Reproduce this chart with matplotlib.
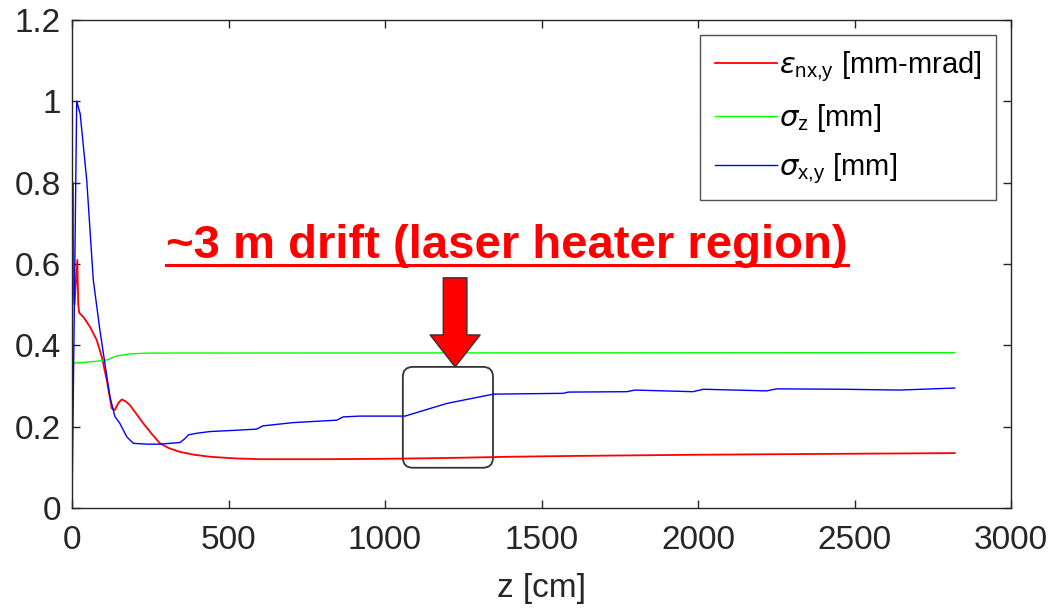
import matplotlib
matplotlib.use('Agg')
import matplotlib.pyplot as plt
from matplotlib.patches import FancyBboxPatch
from matplotlib.lines import Line2D

plt.rcParams['font.family'] = ['Liberation Sans', 'DejaVu Sans']
plt.rcParams['mathtext.fontset'] = 'dejavusans'

# emittance (red)
z_eps = [0, 2, 5, 8, 12, 17, 20, 23, 36, 57, 79, 95, 111, 127, 137, 148, 159, 172,
         185, 205, 228, 255, 281, 310, 345, 390, 441, 520, 600, 800, 1000, 1200,
         1400, 1600, 2000, 2400, 2820]
eps = [0.38, 0.80, 0.55, 0.50, 0.55, 0.61, 0.50, 0.48, 0.47, 0.446, 0.413, 0.372,
       0.315, 0.245, 0.241, 0.258, 0.267, 0.262, 0.253, 0.232, 0.208, 0.182, 0.159,
       0.147, 0.138, 0.131, 0.126, 0.122, 0.120, 0.120, 0.121, 0.123, 0.126, 0.128,
       0.131, 0.133, 0.135]

# bunch length (green)
z_sz = [0, 68, 111, 143, 185, 250, 2820]
sig_z = [0.356, 0.360, 0.364, 0.374, 0.379, 0.381, 0.382]

# transverse size (blue)
z_sxy = [0, 15, 26, 47, 68, 89, 105, 121, 137, 153, 175, 196, 240, 281, 345, 360,
         372, 400, 441, 520, 590, 610, 707, 846, 866, 920, 984, 1064, 1197, 1346,
         1570, 1585, 1772, 1799, 1984, 2017, 2219, 2251, 2460, 2645, 2820]
sig_xy = [0, 1.0, 0.97, 0.807, 0.561, 0.438, 0.356, 0.274, 0.225, 0.208, 0.175,
          0.159, 0.157, 0.157, 0.161, 0.170, 0.180, 0.184, 0.188, 0.191, 0.194,
          0.202, 0.210, 0.216, 0.224, 0.226, 0.226, 0.226, 0.257, 0.280, 0.282,
          0.285, 0.286, 0.290, 0.286, 0.292, 0.288, 0.293, 0.292, 0.290, 0.295]

x_ticks = [0, 500, 1000, 1500, 2000, 2500, 3000]
y_ticks = [0, 0.2, 0.4, 0.6, 0.8, 1.0, 1.2]
y_ticklabels = ['0', '0.2', '0.4', '0.6', '0.8', '1', '1.2']

# highlighted region and arrow
box_z = (1057, 1345)
box_y = (0.099, 0.347)
arrow_z = 1224
arrow_y = (0.566, 0.347)
note = '~3 m drift (laser heater region)'

fig = plt.figure(figsize=(10.51, 6.10), dpi=100)
ax = fig.add_axes([72 / 1051, 102 / 610, 939 / 1051, 488 / 610])

ax.plot(z_eps, eps, color='#ff0000', lw=1.3, label=r'$\epsilon_{\mathregular{nx{,}y}}$ [mm-mrad]')
ax.plot(z_sz, sig_z, color='#00ff00', lw=1.0, label=r'$\sigma_{\mathregular{z}}$ [mm]')
ax.plot(z_sxy, sig_xy, color='#0000ff', lw=1.0, label=r'$\sigma_{\mathregular{x{,}y}}$ [mm]')

ax.set_xlim(0, 3000)
ax.set_ylim(0, 1.2)
ax.set_xticks(x_ticks)
ax.set_xticklabels([str(v) for v in x_ticks])
ax.set_yticks(y_ticks)
ax.set_yticklabels(y_ticklabels)
ax.tick_params(direction='in', length=6, width=1, top=True, right=True,
               labelsize=24, colors='#262626')
ax.tick_params(axis='x', pad=12.5)
ax.tick_params(axis='y', pad=8)
for s in ax.spines.values():
    s.set_color('#262626')
    s.set_linewidth(1)
ax.set_xlabel('z [cm]', fontsize=24, color='#262626', labelpad=12)

leg = ax.legend(loc='upper right', bbox_to_anchor=(0.984, 0.969), borderaxespad=0,
                fontsize=21, frameon=True, fancybox=False, edgecolor='#262626',
                handlelength=2.15, handletextpad=0.05, labelspacing=0.6,
                borderpad=0.5)
leg.get_frame().set_linewidth(1)

# rounded box around the laser heater region
rz = 32
box = FancyBboxPatch((box_z[0], box_y[0]), box_z[1] - box_z[0], box_y[1] - box_y[0],
                     boxstyle='round,pad=0,rounding_size=%d' % rz,
                     mutation_aspect=0.0246 / rz, fc='none', ec='#333333', lw=1.3)
ax.add_patch(box)

ax.annotate('', xy=(arrow_z, arrow_y[1]), xytext=(arrow_z, arrow_y[0]),
            arrowprops=dict(arrowstyle='simple,head_length=2.3,head_width=3.6,tail_width=1.7',
                            mutation_scale=10, fc='#ff0000', ec='#333333', lw=1,
                            shrinkA=0, shrinkB=0))

txt = ax.text(300, 0.615, note, color='#ff0000', fontsize=34, fontweight='bold',
              va='baseline', ha='left')

# underline the note
fig.canvas.draw()
bb = txt.get_window_extent()
inv = fig.transFigure.inverted()
(x0, _), (x1, _) = inv.transform([(bb.x0, 0), (bb.x1, 0)])
yl = 1 - 265 / 610
fig.add_artist(Line2D([x0, x1], [yl, yl], color='#ff0000', lw=2.2))

fig.savefig('out.png', dpi=100)
